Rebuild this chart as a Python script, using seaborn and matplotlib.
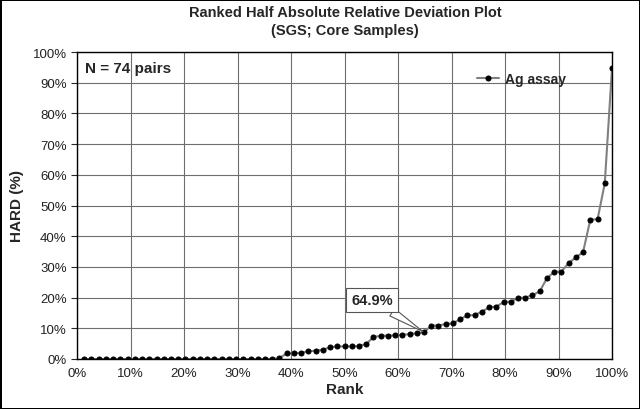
import pandas as pd
import numpy as np
import matplotlib
matplotlib.use('Agg')
import matplotlib.pyplot as plt
import seaborn as sns

# HARD values (%) ranked, 74 pairs
hard = [0.0] * 27 + [
    0.3, 1.8, 1.9, 2.0, 2.5, 2.7, 3.0, 3.8, 4.1, 4.1,
    4.1, 4.2, 4.9, 7.1, 7.6, 7.6, 7.7, 7.9, 8.1, 8.4,
    8.7, 10.9, 10.9, 11.4, 11.6, 13.0, 14.2, 14.3, 15.4, 16.8,
    17.1, 18.5, 18.7, 19.9, 20.0, 20.8, 22.0, 26.3, 28.4, 28.5,
    31.2, 33.1, 34.8, 45.4, 45.5, 57.2, 94.7,
]
n_pairs = len(hard)
rank = [100.0 * (i + 1) / n_pairs for i in range(n_pairs)]
series_name = 'Ag assay'
callout_idx = 47  # point labelled "64.9%"

df = pd.DataFrame({'Rank': rank, 'HARD': hard, 'series': series_name})

sns.set_style('white')
plt.rcParams['font.family'] = ['Liberation Sans', 'DejaVu Sans']

fig = plt.figure(figsize=(6.4, 4.1), dpi=100)
fig.patch.set_edgecolor('black')
fig.patch.set_linewidth(2)
ax = fig.add_axes([77 / 640, 1 - 360 / 410, 535 / 640, 307 / 410])

sns.lineplot(data=df, x='Rank', y='HARD', hue='series', palette=['#808080'],
             marker='o', markersize=3.6, markerfacecolor='black',
             markeredgecolor='black', linewidth=1.5, ax=ax)

ax.set_xlim(0, 100)
ax.set_ylim(0, 100)
ax.set_xticks(np.arange(0, 101, 10))
ax.set_yticks(np.arange(0, 101, 10))
ax.set_xticklabels([f'{v}%' for v in range(0, 101, 10)], fontsize=9.5, color='#222222')
ax.set_yticklabels([f'{v}%' for v in range(0, 101, 10)], fontsize=9.5, color='#222222')
ax.grid(True, color='#6e6e6e', linewidth=0.8)
ax.tick_params(axis='y', length=4, width=0.8, direction='out', left=True)
ax.tick_params(axis='x', length=0, pad=6)
for sp in ax.spines.values():
    sp.set_color('black')
    sp.set_linewidth(1)

ax.set_xlabel('Rank', fontsize=11, fontweight='bold', labelpad=2)
ax.set_ylabel('HARD (%)', fontsize=11, fontweight='bold', labelpad=6)
fig.text(345 / 640, 1 - 22 / 410, 'Ranked Half Absolute Relative Deviation Plot\n(SGS; Core Samples)',
         ha='center', va='center', fontsize=10.5, fontweight='bold', linespacing=1.4)

ax.text(1.5, 97, f'N = {n_pairs} pairs', fontsize=11, fontweight='bold', va='top', ha='left')

leg = ax.legend(loc='upper right', bbox_to_anchor=(0.937, 0.975), frameon=False,
                handlelength=1.6, handletextpad=0.4,
                prop={'weight': 'bold', 'size': 10})

px, py = rank[callout_idx], hard[callout_idx]
ax.annotate(f'{px:.1f}%', xy=(px, py), xytext=(55.2, 19.3), fontsize=10.5, fontweight='bold',
            ha='center', va='center',
            bbox=dict(boxstyle='square,pad=0.35', fc='white', ec='#555555', lw=0.8),
            arrowprops=dict(arrowstyle='wedge,tail_width=0.6', fc='white', ec='#555555', lw=0.8,
                            shrinkA=0, shrinkB=1))

fig.savefig('out.png', dpi=100)
